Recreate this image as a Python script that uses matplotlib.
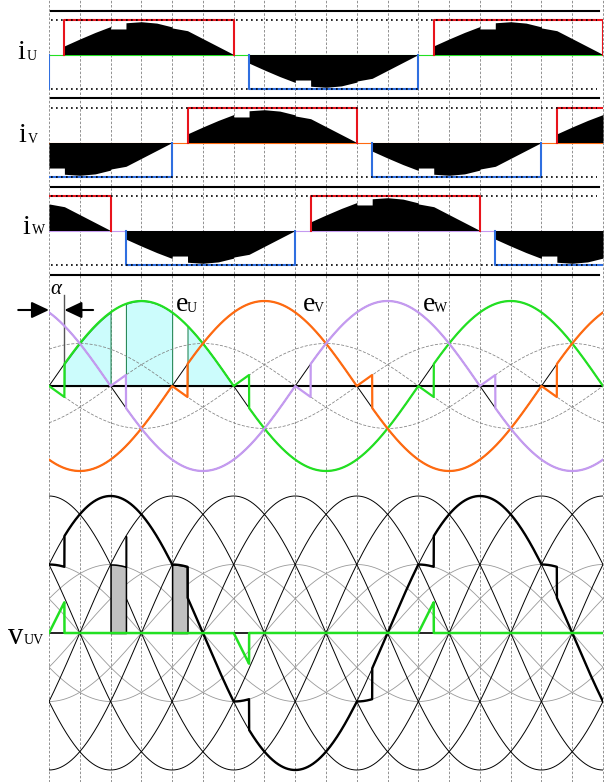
import numpy as np
import matplotlib.pyplot as plt

W_PX, H_PX = 605, 782
X0_PX, X1_PX = 49, 603          # theta 0 .. 540 deg spans these pixels
THETA_MAX = 540

# firing delay and phase shifts, deg
ALPHA = 15
PHASES = ["U", "V", "W"]
PHASE_SHIFT = {"U": 0, "V": 120, "W": 240}
PHASE_COLOR = {"U": "#22e022", "V": "#ff6a10", "W": "#c49af0"}

# current shape over one positive half-wave (deg after rising zero of e)
I_ANG = [15, 30, 45, 60, 60, 75, 75, 90, 105, 120, 120, 135, 150, 165, 180]
I_VAL = [0.25, 0.45, 0.64, 0.81, 0.74, 0.74, 0.92, 0.95, 0.91, 0.80, 0.77, 0.69, 0.46, 0.23, 0.0]

# line-voltage phase angles for the lower sheaf of curves, deg
LINE_PHASES = [30, -30, -90, -150, -210, -270]

# shaded blocks in the lower panel: (floating phase, start deg)
SHADED = [("W", 60), ("V", 120)]
# cyan area under e_U
CYAN_SPANS = [(15, 60), (75, 120), (135, 180)]

# panel layout (pixels)
I_BASE = {"U": 54.5, "V": 142.5, "W": 230.5}
I_UNIT = 34.5
E_ZERO, E_UNIT = 386, 85
L_ZERO, L_UNIT = 633, 137

fig = plt.figure(figsize=(W_PX / 100, H_PX / 100), dpi=100)
SERIF = "Liberation Serif"


def panel(zero_px, unit_px, lo, hi):
    top = zero_px - hi * unit_px
    bot = zero_px - lo * unit_px
    ax = fig.add_axes([X0_PX / W_PX, 1 - bot / H_PX,
                       (X1_PX - X0_PX) / W_PX, (bot - top) / H_PX])
    ax.set_xlim(0, THETA_MAX)
    ax.set_ylim(lo, hi)
    ax.axis("off")
    return ax


def label(x_px, y_px, s, size, **kw):
    fig.text(x_px / W_PX, 1 - y_px / H_PX, s, fontsize=size, family=SERIF,
             ha="left", va="baseline", **kw)


th = np.linspace(0, THETA_MAX, 21601)
ang = np.array(I_ANG, float) + np.arange(len(I_ANG)) * 1e-4


def current(shift):
    t = (th - shift) % 360
    pos = np.interp(t, ang, I_VAL, left=0, right=0)
    neg = -np.interp(t - 180, ang, I_VAL, left=0, right=0)
    return pos + neg


def emf(shift):
    return np.sin(np.radians(th - shift))


def terminal(shift):
    e = emf(shift)
    floating = ((th - shift) % 180) < ALPHA
    return np.where(floating, -0.5 * e, e)


# background dashed grid, full height
ax_bg = fig.add_axes([X0_PX / W_PX, 0, (X1_PX - X0_PX) / W_PX, 1])
ax_bg.set_xlim(0, THETA_MAX)
ax_bg.set_ylim(0, 1)
ax_bg.axis("off")
ax_bg.vlines(np.arange(0, THETA_MAX + 1, 30), 0, 1, colors="#808080",
             linestyles=(0, (3, 2)), lw=0.6, clip_on=False)

# ---- current panels ----
sep = 44 / I_UNIT
for n, p in enumerate(PHASES):
    ax = panel(I_BASE[p], I_UNIT, -1.35, 1.35)
    s = PHASE_SHIFT[p]
    ax.axhline(0, color=PHASE_COLOR[p], lw=0.8, zorder=1)
    ax.fill_between(th, 0, current(s), color="black", lw=0, zorder=2)
    for k in range(-2, 3):
        a = s + 360 * k
        ax.plot([a + ALPHA, a + ALPHA, a + 180, a + 180], [0, 1, 1, 0],
                color="#e8141c", lw=1.5, zorder=3)
        ax.plot([a + 180 + ALPHA, a + 180 + ALPHA, a + 360, a + 360], [0, -1, -1, 0],
                color="#2f6fe0", lw=1.5, zorder=3)
    for yv in (1, -1):
        ax.axhline(yv, xmin=0.004, xmax=0.99, color="black", lw=1.2,
                   ls=(0, (1, 2)), zorder=4)
    ax.axhline(-sep, xmin=0.004, xmax=0.993, color="black", lw=1.5)
    if n == 0:
        ax.axhline(sep, xmin=0.004, xmax=0.993, color="black", lw=1.5)

label(17, 59, "i", 20)
label(27, 60, "U", 10)
label(18, 142, "i", 20)
label(28, 143, "V", 10)
label(22, 234, "i", 20)
label(32, 234, "W", 10)

# ---- phase voltage panel ----
ax_e = panel(E_ZERO, E_UNIT, -1.1, 1.3)
eU = emf(0)
for a0, a1 in CYAN_SPANS:
    m = (th >= a0) & (th <= a1)
    ax_e.fill_between(th[m], 0, eU[m], facecolor="#ccfcfc", edgecolor="#2a8a5a",
                      lw=0.8, zorder=1)
for p in PHASES:
    ax_e.plot(th, -0.5 * emf(PHASE_SHIFT[p]), color="#808080", lw=0.55,
              ls=(0, (4, 2)), zorder=2)
for p in PHASES:
    ax_e.plot(th, emf(PHASE_SHIFT[p]), color="black", lw=0.7, zorder=3)
ax_e.axhline(0, color="black", lw=1.5, zorder=4)
for p in PHASES:
    ax_e.plot(th, terminal(PHASE_SHIFT[p]), color=PHASE_COLOR[p], lw=1.6, zorder=5)

ax_e.plot([ALPHA, ALPHA], [np.sin(np.radians(ALPHA)), 1.07], color="#555555",
          lw=1.0, zorder=4)
arrow_y = (E_ZERO - 310) / E_UNIT
arw = dict(arrowstyle="-|>,head_length=0.7,head_width=0.33", color="black",
           lw=1.5, shrinkA=0, shrinkB=0, mutation_scale=15)
ax_e.annotate("", xy=(0, arrow_y), xytext=(-30, arrow_y), arrowprops=arw,
              annotation_clip=False)
ax_e.annotate("", xy=(ALPHA, arrow_y), xytext=(ALPHA + 28, arrow_y),
              arrowprops=arw, annotation_clip=False)
label(50, 294, "α", 15, style="italic")

label(176, 311, "e", 20)
label(187, 312, "U", 10)
label(303, 311, "e", 20)
label(314, 312, "V", 10)
label(423, 311, "e", 20)
label(434, 312, "W", 10)

# ---- line voltage panel ----
ax_l = panel(L_ZERO, L_UNIT, -1.08, 1.06)
for ph in LINE_PHASES:
    ax_l.plot(th, 0.5 * np.sin(np.radians(th + ph)), color="#999999", lw=0.6, zorder=1)
for ph in LINE_PHASES:
    ax_l.plot(th, np.sin(np.radians(th + ph)), color="black", lw=0.7, zorder=2)

rt3 = np.sqrt(3)
vU = terminal(PHASE_SHIFT["U"])
vV = terminal(PHASE_SHIFT["V"])
for p, a0 in SHADED:
    m = (th >= a0) & (th <= a0 + ALPHA)
    box = (eU[m] - terminal(PHASE_SHIFT[p])[m]) / rt3
    ax_l.fill_between(th[m], 0, box, facecolor="#c0c0c0", edgecolor="black",
                      lw=1.1, zorder=3)
ax_l.axhline(0, color="black", lw=1.2, zorder=4)
ax_l.plot(th, (vU - vV) / rt3, color="black", lw=1.7, zorder=5)
ax_l.plot(th, (eU - vU) / rt3, color=PHASE_COLOR["U"], lw=1.8, zorder=6)

label(8, 644, "v", 22)
label(24, 644, "UV", 10)

fig.savefig("out.png", dpi=100)
